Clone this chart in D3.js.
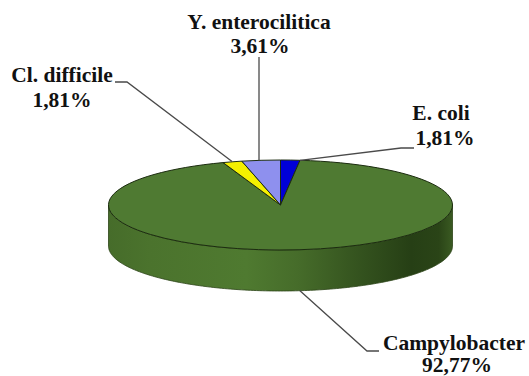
<!DOCTYPE html>
<html><head><meta charset="utf-8">
<script src="https://cdnjs.cloudflare.com/ajax/libs/d3/7.8.5/d3.min.js"></script>
<style>html,body{margin:0;padding:0;background:#fff}svg{display:block}
text{font-family:"Liberation Serif",serif;font-weight:700;font-size:21.5px;fill:#111;text-anchor:middle}</style>
</head><body><svg id="c" width="529" height="376"></svg>
<script>
const categories = ["E. coli","Campylobacter","Cl. difficile","Y. enterocilitica"];
const values = [1.81,92.77,1.81,3.61];
const valueLabels = ["1,81%","92,77%","1,81%","3,61%"];
const colors = ["#0000d8","#4f7a32","#f4f000","#8e90ee"];

const W=529,H=376,cx=280.5,cy=205,rx=172,ry=45,depth=41;
const svg=d3.select("#c");
const slices=d3.pie().sort(null).value(d=>d)(values);
const pt=(a,dy=0)=>[cx+rx*Math.sin(a),cy-ry*Math.cos(a)+dy];

const defs=svg.append("defs");
const g=defs.append("linearGradient").attr("id","side").attr("gradientUnits","userSpaceOnUse")
  .attr("x1",cx-rx).attr("x2",cx+rx).attr("y1",0).attr("y2",0);
[[0,"#466c2a"],[0.12,"#4b732d"],[0.4,"#4f7a30"],[0.55,"#466c2a"],[0.72,"#35541f"],[0.88,"#263f15"],[0.96,"#2a4417"],[1,"#3a5a22"]]
  .forEach(s=>g.append("stop").attr("offset",s[0]).attr("stop-color",s[1]));

// front wall of the pie
const front=d3.range(90,270.5,1).map(d=>d*Math.PI/180);
const wall=front.map(a=>pt(a)).concat(front.slice().reverse().map(a=>pt(a,depth)));
svg.append("path").attr("d",d3.line()(wall)+"Z").attr("fill","url(#side)").attr("stroke","#2c4418").attr("stroke-width",0.8);

// top face
const arc=d3.arc().innerRadius(0).outerRadius(rx);
svg.append("g").attr("transform",`translate(${cx},${cy}) scale(1,${ry/rx})`)
  .selectAll("path").data(slices).join("path")
  .attr("d",arc).attr("fill",(d,i)=>colors[i])
  .attr("stroke","#1c2c10").attr("stroke-width",1).attr("vector-effect","non-scaling-stroke");

// leader lines anchored on the slices
const mid=d=>(d.startAngle+d.endAngle)/2;
const lead=[
 [pt(slices[0].endAngle),[401,148],[414,148]],
 [pt(mid(slices[1]),depth),[367,351],[379,351]],
 [pt(mid(slices[2])),[127,82],[115,82]],
 [[259,pt(mid(slices[3]))[1]],[259,57]]
];
svg.append("g").selectAll("path").data(lead).join("path")
  .attr("d",d=>d3.line()(d)).attr("fill","none").attr("stroke","#4a4a4a").attr("stroke-width",1.3);

// labels
const labelPos=[[441,120,445,145],[454,350,457,372],[62,82,62,107],[259,29,260,53]];
const t=svg.append("g");
categories.forEach((c,i)=>{
  const p=labelPos[i];
  t.append("text").attr("x",p[0]).attr("y",p[1]).text(c);
  t.append("text").attr("x",p[2]).attr("y",p[3]).text(valueLabels[i]);
});
</script></body></html>
